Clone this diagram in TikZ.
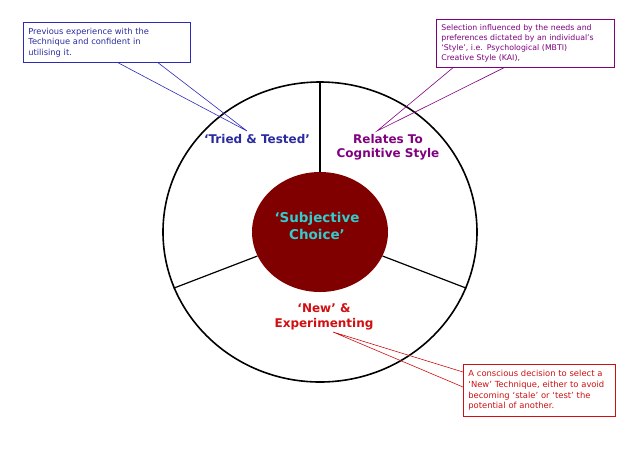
\documentclass[tikz,border=0pt]{standalone}
\usepackage{fontspec}
\setmainfont{DejaVu Sans}
\usetikzlibrary{shapes.geometric}
\definecolor{bluec}{HTML}{2B2BB8}
\definecolor{bluet}{HTML}{2A2AA0}
\definecolor{purp}{HTML}{800080}
\definecolor{redc}{HTML}{D01010}
\definecolor{maroon}{HTML}{800000}
\definecolor{cyant}{HTML}{33CCCC}
\tikzset{
  callbox/.style={draw, line width=0.7pt, anchor=north west, align=left,
    font=\fontsize{8.3}{10.5}\selectfont, inner xsep=5pt, inner ysep=3pt},
  label/.style={font=\fontsize{12}{14}\selectfont\bfseries, align=center},
  divider/.style={line width=1.2pt},
  pointer/.style={line width=0.6pt}
}
\begin{document}
\begin{tikzpicture}[x=1pt,y=-1pt]
\useasboundingbox (0,0) rectangle (638,451);
\node[ellipse, draw, line width=1.6pt, minimum width=314pt, minimum height=300pt, inner sep=0pt] (outer) at (320,232) {};
\node[ellipse, fill=maroon, minimum width=136pt, minimum height=120pt, inner sep=0pt] (core) at (320,232) {};
\draw[divider] (outer.north) -- (core.north);
\draw[divider] (outer.201) -- (core.201);
\draw[divider] (outer.339) -- (core.339);
\node[label, text=cyant, font=\fontsize{13.5}{17}\selectfont\bfseries] (choice) at (317,226) {`Subjective\\Choice'};
\node[label, text=bluet] (tried) at (257,139) {`Tried \& Tested'};
\node[label, text=purp] (cog) at (388,147) {Relates To\\Cognitive Style};
\node[label, text=redc, font=\fontsize{12}{15}\selectfont\bfseries] (new) at (324,317) {`New' \&\\Experimenting};
% callouts
\node[callbox, draw=bluec, text=bluet, minimum width=167pt, minimum height=40pt, text width=157pt] (tbox) at (23,22) {Previous experience with the\\Technique and confident in\\utilising it.};
\node[callbox, draw=purp, text=purp, minimum width=178pt, minimum height=48pt, text width=168pt, font=\fontsize{7.8}{9.7}\selectfont] (pbox) at (436,19) {Selection influenced by the needs and\\preferences dictated by an individual's\\`Style', i.e. Psychological (MBTI)\\Creative Style (KAI),};
\node[callbox, draw=redc, text=redc, minimum width=152pt, minimum height=52pt, text width=142pt, font=\fontsize{8.4}{10.8}\selectfont] (rbox) at (463,364) {A conscious decision to select a\\`New' Technique, either to avoid\\becoming `stale' or `test' the\\potential of another.};
\coordinate (ttip) at (247,131);
\coordinate (ptip) at (377,131);
\coordinate (rtip) at (333,332);
\draw[pointer, bluec] ([xshift=95pt]tbox.south west) -- (ttip) -- ([xshift=135pt]tbox.south west);
\draw[pointer, purp] ([xshift=17pt]pbox.south west) -- (ptip) -- ([xshift=68pt]pbox.south west);
\draw[pointer, redc] ([yshift=-8pt]rbox.north west) -- (rtip) -- ([yshift=-23pt]rbox.north west);
\end{tikzpicture}
\end{document}
